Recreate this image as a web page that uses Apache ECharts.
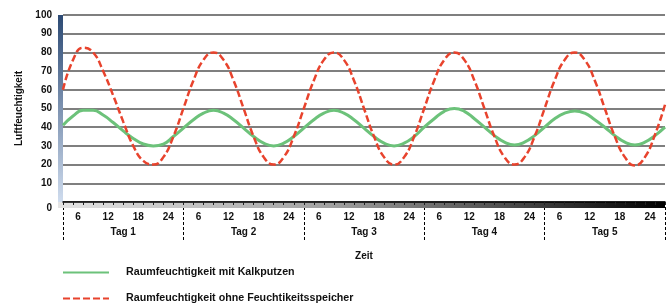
<!DOCTYPE html>
<html>
<head>
<meta charset="utf-8">
<script src="https://cdn.jsdelivr.net/npm/echarts@6/dist/echarts.min.js"></script>
<style>
  html, body { margin: 0; padding: 0; background: #fff; }
  #chart { width: 671px; height: 306px; }
</style>
</head>
<body>
<div id="chart"></div>
<script>
// Stunden (alle 2 h) über 5 Tage
const hours = [
  0, 2, 4, 6, 8, 10, 12, 14, 16, 18, 20, 22,
  24, 26, 28, 30, 32, 34, 36, 38, 40, 42, 44, 46,
  48, 50, 52, 54, 56, 58, 60, 62, 64, 66, 68, 70,
  72, 74, 76, 78, 80, 82, 84, 86, 88, 90, 92, 94,
  96, 98, 100, 102, 104, 106, 108, 110, 112, 114, 116, 118,
  120
]

// Raumfeuchtigkeit mit Kalkputzen
const mitKalkputzen = [
  41, 46, 49, 49, 46.5, 42.5, 38, 34, 31, 30, 31, 35,
  39.5, 44, 47.5, 49, 47.5, 44, 39.5, 35, 31.5, 30, 31.5, 35,
  39.5, 44, 47.5, 49, 47.5, 44, 39.5, 35, 31.5, 30, 31.5, 35,
  40, 44.5, 48.5, 50, 48.5, 44.5, 40, 35.5, 32, 30.5, 32, 35.5,
  40, 44.5, 47.5, 48.7, 47.5, 44, 40, 35.5, 32, 30.5, 32, 35.5,
  40
]

// Raumfeuchtigkeit ohne Feuchtikeitsspeicher
const ohneSpeicher = [
  60, 76, 82.5, 80, 70, 57, 43, 30, 22, 20, 24, 35,
  50, 65, 76, 80, 76, 65, 50, 35, 24, 20, 24, 35,
  50, 65, 76, 80, 76, 65, 50, 35, 24, 20, 24, 35,
  50, 65, 76, 80, 76, 65, 50, 35, 24, 20, 24, 35,
  50, 65, 76, 80, 76, 65, 50, 35, 24, 19.5, 24, 36,
  52
]

const hourLabels = [
  '6', '12', '18', '24', '6', '12', '18', '24', '6', '12',
  '18', '24', '6', '12', '18', '24', '6', '12', '18', '24'
]
const dayLabels = ['Tag 1', 'Tag 2', 'Tag 3', 'Tag 4', 'Tag 5']
const yTicks = [0, 10, 20, 30, 40, 50, 60, 70, 80, 90, 100]
const seriesNames = ['Raumfeuchtigkeit mit Kalkputzen', 'Raumfeuchtigkeit ohne Feuchtikeitsspeicher']

const FONT = '"Liberation Sans", Arial, sans-serif'
const chart = echarts.init(document.getElementById('chart'))

const toPairs = (vals) => hours.map((h, i) => [h, vals[i]])

const legendBase = {
  left: 62,
  padding: 0,
  itemWidth: 46,
  itemHeight: 10,
  itemStyle: { opacity: 0 },
  textStyle: {
    fontFamily: FONT,
    fontWeight: 'bold',
    fontSize: 10.7,
    color: '#111',
    padding: [0, 0, 0, 12]
  }
}

const option = {
  animation: false,
  backgroundColor: '#fff',
  textStyle: { fontFamily: FONT },
  grid: { left: 63, right: 6, top: 15, bottom: 104 },
  graphic: [
    {
      // Verlaufsbalken links
      type: 'rect',
      z: 1,
      shape: { x: 58, y: 15, width: 5, height: 187 },
      style: {
        fill: new echarts.graphic.LinearGradient(0, 0, 0, 1, [
          { offset: 0, color: '#2c4a74' },
          { offset: 1, color: '#cfdcee' }
        ])
      }
    },
    {
      // Verlaufsband unten
      type: 'rect',
      z: 1,
      shape: { x: 58, y: 202, width: 607, height: 6 },
      style: {
        fill: new echarts.graphic.LinearGradient(0, 0, 1, 0, [
          { offset: 0, color: '#e4e4e4' },
          { offset: 0.45, color: '#a0a0a0' },
          { offset: 1, color: '#000' }
        ])
      }
    }
  ],
  legend: [
    Object.assign({}, legendBase, { top: 267, data: [seriesNames[0]] }),
    Object.assign({}, legendBase, { top: 293, data: [seriesNames[1]] })
  ],
  xAxis: [
    {
      type: 'value',
      min: 0,
      max: 120,
      interval: 2,
      z: 3,
      axisLine: { show: true, lineStyle: { color: '#000', width: 1.5 } },
      axisTick: { show: true, length: 3, lineStyle: { color: '#222', width: 1 } },
      axisLabel: { show: false },
      splitLine: { show: false }
    },
    {
      type: 'category',
      position: 'bottom',
      data: hourLabels,
      boundaryGap: true,
      axisLine: { show: false },
      axisTick: { show: false },
      axisLabel: {
        margin: 10,
        fontFamily: FONT,
        fontWeight: 'bold',
        fontSize: 10,
        color: '#111',
        interval: 0
      }
    },
    {
      type: 'category',
      position: 'bottom',
      offset: 5,
      data: dayLabels,
      boundaryGap: true,
      name: 'Zeit',
      nameLocation: 'middle',
      nameGap: 44,
      nameTextStyle: { fontFamily: FONT, fontWeight: 'bold', fontSize: 10, color: '#111' },
      axisLine: { show: false },
      axisTick: {
        show: true,
        length: 33,
        lineStyle: { color: '#000', width: 1, type: [3, 2] }
      },
      axisLabel: {
        margin: 20,
        fontFamily: FONT,
        fontWeight: 'bold',
        fontSize: 10,
        color: '#111',
        interval: 0
      }
    }
  ],
  yAxis: {
    type: 'value',
    min: yTicks[0],
    max: yTicks[yTicks.length - 1],
    interval: 10,
    name: 'Luftfeuchtigkeit',
    nameLocation: 'middle',
    nameGap: 38,
    nameTextStyle: { fontFamily: FONT, fontWeight: 'bold', fontSize: 10, color: '#111' },
    axisLine: { show: false },
    axisTick: { show: false },
    axisLabel: {
      margin: 11,
      fontFamily: FONT,
      fontWeight: 'bold',
      fontSize: 10,
      color: '#111',
      formatter: (v) => (v === 0 ? '{z|0}' : String(v)),
      rich: {
        z: { padding: [12, 0, 0, 0], fontFamily: FONT, fontWeight: 'bold', fontSize: 10, color: '#111' }
      }
    },
    splitLine: { lineStyle: { color: '#555', width: 1.6 } }
  },
  series: [
    {
      name: seriesNames[0],
      type: 'line',
      xAxisIndex: 0,
      data: toPairs(mitKalkputzen),
      smooth: 0.5,
      symbol: 'none',
      z: 4,
      lineStyle: { color: '#6cc27a', width: 3 },
      itemStyle: { color: '#6cc27a' }
    },
    {
      name: seriesNames[1],
      type: 'line',
      xAxisIndex: 0,
      data: toPairs(ohneSpeicher),
      smooth: 0.5,
      symbol: 'none',
      z: 5,
      lineStyle: { color: '#e8432d', width: 2.5, type: [7, 3] },
      itemStyle: { color: '#e8432d' }
    }
  ]
}

chart.setOption(option)
</script>
</body>
</html>
